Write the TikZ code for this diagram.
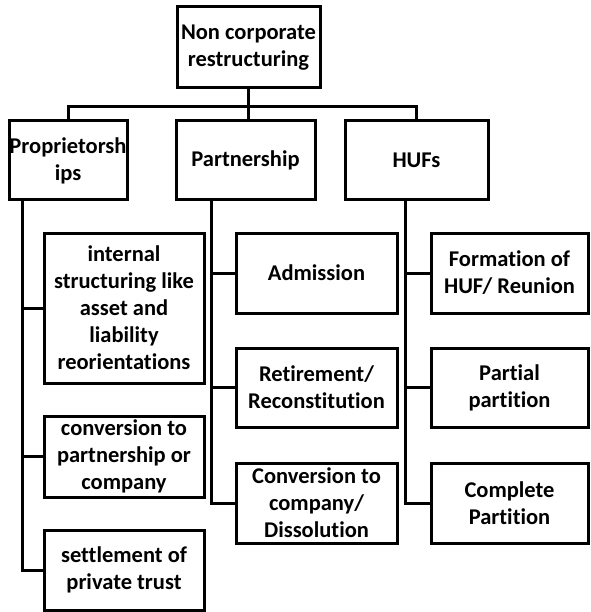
\documentclass[tikz,border=0pt]{standalone}
\usepackage{fontspec}
\setmainfont{Carlito}[RawFeature=-liga]
\usetikzlibrary{calc}
\begin{document}
\begin{tikzpicture}[x=1pt,y=-1pt,
  box/.style={draw=black,line width=3pt,fill=none,inner sep=0pt},
  txt/.style={align=center,inner sep=0pt,font=\fontsize{22.5}{27}\selectfont\bfseries},
  conn/.style={draw=black,line width=3pt}]
\useasboundingbox (0,0) rectangle (590,612);
% level 0
\node[box,minimum width=143pt,minimum height=81pt] (root) at (248.5,47.5) {};
\node[txt] (root-t) at (root) {Non corporate\\restructuring};
% level 1
\node[box,minimum width=118pt,minimum height=79pt] (prop) at (68,160.5) {};
\node[txt] (prop-t) at (prop) {Proprietorsh\\ips};
\node[box,minimum width=139pt,minimum height=79pt] (part) at (245.5,160.5) {};
\node[txt] (part-t) at (part) {Partnership};
\node[box,minimum width=143pt,minimum height=79pt] (huf) at (416.5,160.5) {};
\node[txt] (huf-t) at (huf) {HUFs};
% proprietorship children
\node[box,minimum width=160pt,minimum height=150pt] (pa) at (124,308) {};
\node[txt] (pa-t) at (pa) {internal\\structuring like\\asset and\\liability\\reorientations};
\node[box,minimum width=160pt,minimum height=81pt] (pb) at (124,456.5) {};
\node[txt] (pb-t) at (pb) {conversion to\\partnership or\\company};
\node[box,minimum width=160pt,minimum height=80pt] (pc) at (124,570) {};
\node[txt] (pc-t) at (pc) {settlement of\\private trust};
% partnership children
\node[box,minimum width=161pt,minimum height=80pt] (ra) at (316.5,273) {};
\node[txt] (ra-t) at (ra) {Admission};
\node[box,minimum width=161pt,minimum height=79pt] (rb) at (316.5,387.5) {};
\node[txt] (rb-t) at (rb) {Retirement/\\Reconstitution};
\node[box,minimum width=161pt,minimum height=80pt] (rc) at (316.5,503) {};
\node[txt] (rc-t) at (rc) {Conversion to\\company/\\Dissolution};
% HUF children
\node[box,minimum width=157pt,minimum height=80pt] (ha) at (509.5,273) {};
\node[txt] (ha-t) at (ha) {Formation of\\HUF/ Reunion};
\node[box,minimum width=157pt,minimum height=79pt] (hb) at (509.5,387.5) {};
\node[txt] (hb-t) at (hb) {Partial\\partition};
\node[box,minimum width=157pt,minimum height=80pt] (hc) at (509.5,503) {};
\node[txt] (hc-t) at (hc) {Complete\\Partition};
% connectors level 0 -> 1
\coordinate (bar) at ($(root.south)+(0,17)$);
\draw[conn] (root.south) -- (bar);
\draw[conn] (prop.north) |- (bar) -| (huf.north);
\draw[conn] (bar) -- (bar |- part.north);
% trunks
\coordinate (ptr) at ($(prop.south west)+(15,0)$);
\coordinate (rtr) at ($(part.south west)+(37,0)$);
\coordinate (htr) at ($(huf.south west)+(62,0)$);
\draw[conn] (ptr) |- (pa.west);
\draw[conn] (ptr) |- (pb.west);
\draw[conn] (ptr) |- (pc.west);
\draw[conn] (rtr) |- (ra.west);
\draw[conn] (rtr) |- (rb.west);
\draw[conn] (rtr) |- (rc.west);
\draw[conn] (htr) |- (ha.west);
\draw[conn] (htr) |- (hb.west);
\draw[conn] (htr) |- (hc.west);
\end{tikzpicture}
\end{document}
